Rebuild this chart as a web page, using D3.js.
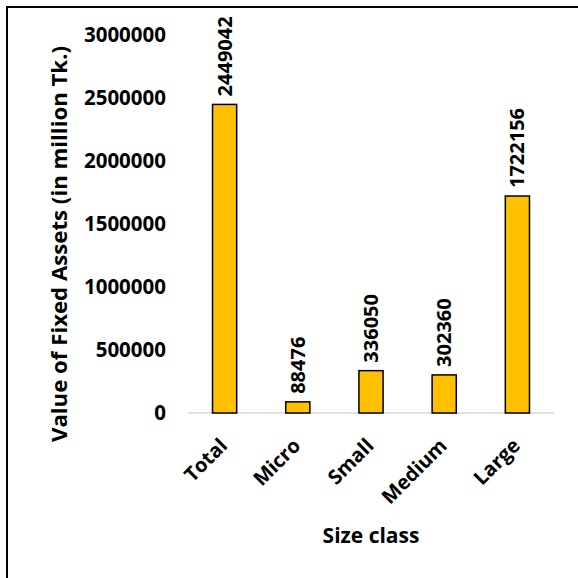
<!DOCTYPE html>
<html><head><meta charset="utf-8">
<script src="https://cdn.jsdelivr.net/npm/d3@7"></script>
<style>
body{margin:0;background:#fff;}
svg{display:block;font-family:"Open Sans",sans-serif;font-weight:bold;}
</style></head>
<body>
<script>
const categories = ["Total","Micro","Small","Medium","Large"];
const values = [2449042, 88476, 336050, 302360, 1722156];
const yTicks = [0, 500000, 1000000, 1500000, 2000000, 2500000, 3000000];
const yTitle = "Value of Fixed Assets (in million Tk.)";
const xTitle = "Size class";

const W = 578, H = 578;
const svg = d3.select("body").append("svg").attr("width", W).attr("height", H);

// outer border (extends beyond frame right & bottom)
svg.append("rect").attr("x", 7).attr("y", 7).attr("width", 600).attr("height", 600)
  .attr("fill", "none").attr("stroke", "#000").attr("stroke-width", 2);

const x = d3.scaleBand().domain(categories).range([188, 554]).paddingInner(0.67).paddingOuter(0.335);
const y = d3.scaleLinear().domain([0, 3000000]).range([413, 35]);

// y axis labels
const yAxis = d3.axisLeft(y).tickValues(yTicks).tickSize(0).tickPadding(0).tickFormat(d3.format("d"));
const gy = svg.append("g").attr("transform", "translate(166,0)").call(yAxis);
gy.select(".domain").remove();
gy.selectAll("text").attr("font-size", 20.5).attr("font-family", "Open Sans").attr("font-weight", "bold").attr("fill", "#000");

// baseline
svg.append("line").attr("x1", 188).attr("x2", 554).attr("y1", y(0)).attr("y2", y(0))
  .attr("stroke", "#d9d9d9").attr("stroke-width", 1.5);

// bars
svg.selectAll("rect.bar").data(values).enter().append("rect").attr("class", "bar")
  .attr("x", (d, i) => x(categories[i]))
  .attr("width", x.bandwidth())
  .attr("y", d => y(d))
  .attr("height", d => y(0) - y(d))
  .attr("fill", "#FFC000").attr("stroke", "#000").attr("stroke-width", 1.5);

// value labels
svg.selectAll("text.val").data(values).enter().append("text").attr("class", "val")
  .attr("transform", (d, i) => `translate(${x(categories[i]) + x.bandwidth() / 2 + 7},${y(d) - 8}) rotate(-90)`)
  .attr("text-anchor", "start").attr("font-size", 20).text(d => d);

// x axis labels
const xAxis = d3.axisBottom(x).tickSize(0).tickPadding(0);
const gx = svg.append("g").attr("transform", `translate(0,${y(0)})`).call(xAxis);
gx.select(".domain").remove();
gx.selectAll("text").attr("font-size", 20).attr("font-family", "Open Sans").attr("font-weight", "bold").attr("fill", "#000")
  .attr("text-anchor", "end").attr("dy", null).attr("y", 0)
  .attr("transform", "translate(4,34) rotate(-45)");

// axis titles
svg.append("text").attr("transform", "translate(67,244) rotate(-90)").attr("text-anchor", "middle")
  .attr("font-size", 21.5).attr("textLength", 396).attr("lengthAdjust", "spacingAndGlyphs").text(yTitle);
svg.append("text").attr("x", 371).attr("y", 543).attr("text-anchor", "middle").attr("font-size", 21).text(xTitle);
</script>
</body></html>
